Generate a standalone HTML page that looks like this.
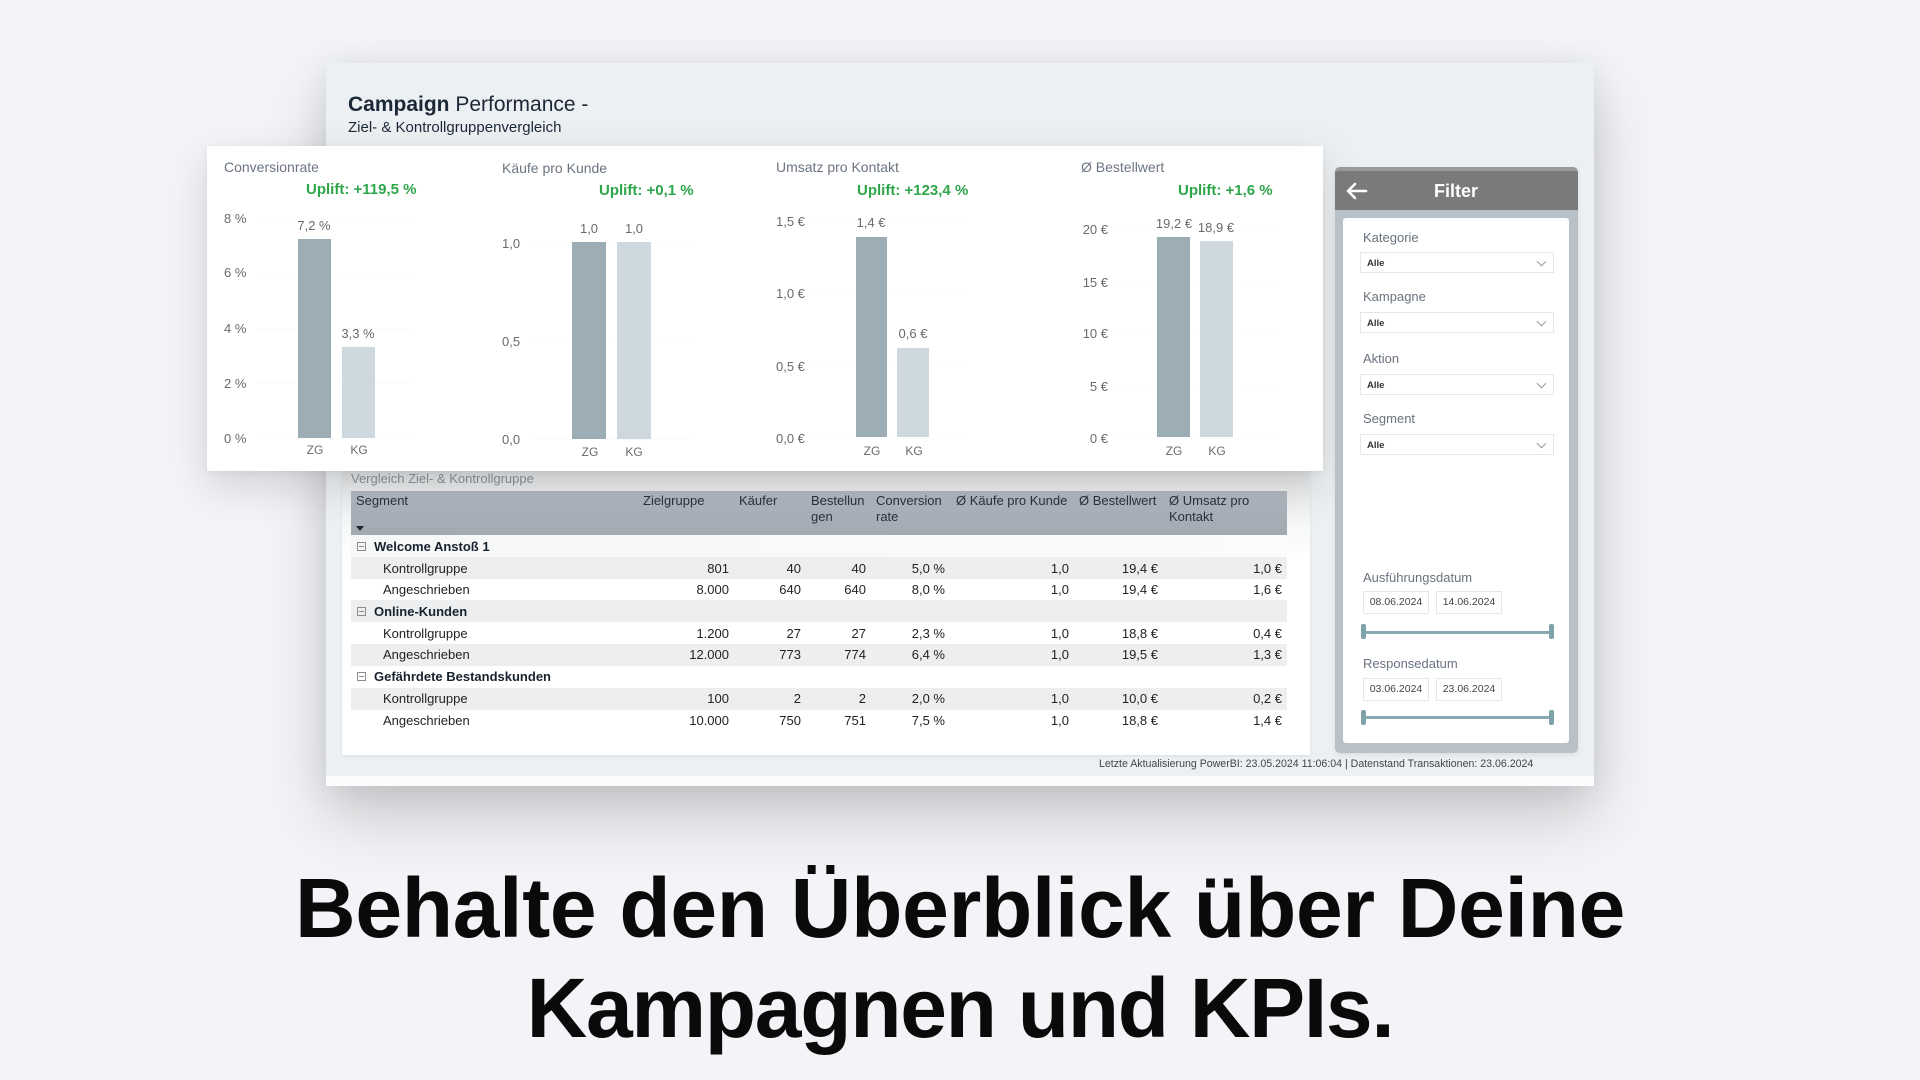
<!DOCTYPE html>
<html><head><meta charset="utf-8">
<style>
*{margin:0;padding:0;box-sizing:border-box}
html,body{width:1920px;height:1080px;overflow:hidden;background:#f3f4f7}
body{font-family:"Liberation Sans",Arial,sans-serif;position:relative}
.a{position:absolute}
.t{position:absolute;line-height:1;white-space:nowrap}
.cx{transform:translateX(-50%)}
.ct{font-size:14px;color:#6b7580}
.up{font-size:15px;font-weight:bold;color:#2ea64a}
.tk{font-size:13px;color:#6a6a6a}
.vl{font-size:13px;color:#6a6a6a}
.cat{font-size:12px;color:#6a6a6a}
.zg{position:absolute;background:#9cadb5}
.kg{position:absolute;background:#cdd9de}
.gl{position:absolute;height:0;border-top:1px dotted #f5f5f5}
.th{position:absolute;font-size:13px;line-height:16px;color:#29313b;white-space:nowrap}
.rw{position:absolute;left:351px;width:936px;height:22px}
.g{background:#eceeef}
.rl{font-size:13px;color:#222}
.rb{font-size:13px;color:#17222f;font-weight:bold}
.ic{position:absolute;width:9px;height:9px;border:1px solid #8d8d8d}
.ic:after{content:"";position:absolute;left:1px;right:1px;top:3px;height:1px;background:#8d8d8d}
.fl{font-size:13px;color:#69737e}
.dd{position:absolute;left:1360px;width:194px;height:21px;border:1px solid #e4e6e8;background:#fff}
.dd span{position:absolute;left:6px;top:6px;font-size:9.5px;font-weight:bold;color:#333;line-height:1}
.dd i{position:absolute;right:8px;top:5px;width:7px;height:7px;border-right:1px solid #999;border-bottom:1px solid #999;transform:rotate(45deg)}
.db{position:absolute;width:66px;height:23px;border:1px solid #e6e6e6;background:#fff;font-size:10.5px;color:#444;line-height:21px;text-align:center}
.sl{position:absolute;left:1363px;width:188px;height:3px;background:#87aab2}
.hd{position:absolute;width:5px;height:15px;background:#7fa3ab;border-radius:2px}
</style></head><body>

<!-- Dashboard -->
<div class="a" style="left:326px;top:63px;width:1268px;height:723px;background:#edf0f2;box-shadow:0 30px 60px rgba(0,0,0,0.18),0 5px 30px rgba(0,0,0,0.08)"></div>
<div class="a" style="left:326px;top:776px;width:1268px;height:10px;background:#fbfcfc"></div>

<div class="t" style="left:348px;top:94px;font-size:21px;color:#1c2838"><b>Campaign</b> Performance -</div>
<div class="t" style="left:348px;top:120px;font-size:15px;color:#1c2838">Ziel- &amp; Kontrollgruppenvergleich</div>

<!-- Table panel -->
<div class="a" style="left:342px;top:471px;width:968px;height:284px;background:linear-gradient(to bottom,#e2e4e6 0px,#eaeced 18px,#f8f9f9 60px,#fff 90px);box-shadow:0 1px 3px rgba(0,0,0,0.08)"></div>
<div class="t" style="left:351px;top:471.5px;font-size:13px;color:#8b9095">Vergleich Ziel- &amp; Kontrollgruppe</div>

<div class="a" style="left:351px;top:491px;width:936px;height:44px;background:linear-gradient(to bottom,#b2b9c1,#a1a9b3)"></div>
<div class="th" style="left:356px;top:493px">Segment</div>
<div class="a" style="left:356px;top:526px;width:0;height:0;border-left:4px solid transparent;border-right:4px solid transparent;border-top:5px solid #1e2630"></div>
<div class="th" style="left:643px;top:493px">Zielgruppe</div>
<div class="th" style="left:739px;top:493px">Käufer</div>
<div class="th" style="left:811px;top:493px">Bestellun<br>gen</div>
<div class="th" style="left:876px;top:493px">Conversion<br>rate</div>
<div class="th" style="left:956px;top:493px">Ø Käufe pro Kunde</div>
<div class="th" style="left:1079px;top:493px">Ø Bestellwert</div>
<div class="th" style="left:1169px;top:493px">Ø Umsatz pro<br>Kontakt</div>

<!-- rows -->
<div class="rw" style="top:535px;background:linear-gradient(to right,#f6f7f7,#fbfbfb)"></div>
<div class="rw g" style="top:557px"></div>
<div class="rw g" style="top:600px"></div>
<div class="rw g" style="top:644px"></div>
<div class="rw g" style="top:688px"></div>

<div class="ic" style="left:357px;top:541.5px"></div>
<div class="t rb" style="left:374px;top:539.5px">Welcome Anstoß 1</div>
<div class="ic" style="left:357px;top:606.5px"></div>
<div class="t rb" style="left:374px;top:604.5px">Online-Kunden</div>
<div class="ic" style="left:357px;top:671.5px"></div>
<div class="t rb" style="left:374px;top:669.5px">Gefährdete Bestandskunden</div>

<div class="t rl" style="left:383px;top:561.5px">Kontrollgruppe</div>
<div class="t rl" style="left:383px;top:583px">Angeschrieben</div>
<div class="t rl" style="left:383px;top:626.5px">Kontrollgruppe</div>
<div class="t rl" style="left:383px;top:648px">Angeschrieben</div>
<div class="t rl" style="left:383px;top:692px">Kontrollgruppe</div>
<div class="t rl" style="left:383px;top:713.5px">Angeschrieben</div>

<!-- row 1 values -->
<div class="t rl" style="right:1191px;top:561.5px">801</div>
<div class="t rl" style="right:1119px;top:561.5px">40</div>
<div class="t rl" style="right:1054px;top:561.5px">40</div>
<div class="t rl" style="right:975px;top:561.5px">5,0 %</div>
<div class="t rl" style="right:851px;top:561.5px">1,0</div>
<div class="t rl" style="right:762px;top:561.5px">19,4 €</div>
<div class="t rl" style="right:638px;top:561.5px">1,0 €</div>
<!-- row 2 -->
<div class="t rl" style="right:1191px;top:583px">8.000</div>
<div class="t rl" style="right:1119px;top:583px">640</div>
<div class="t rl" style="right:1054px;top:583px">640</div>
<div class="t rl" style="right:975px;top:583px">8,0 %</div>
<div class="t rl" style="right:851px;top:583px">1,0</div>
<div class="t rl" style="right:762px;top:583px">19,4 €</div>
<div class="t rl" style="right:638px;top:583px">1,6 €</div>
<!-- row 4 -->
<div class="t rl" style="right:1191px;top:626.5px">1.200</div>
<div class="t rl" style="right:1119px;top:626.5px">27</div>
<div class="t rl" style="right:1054px;top:626.5px">27</div>
<div class="t rl" style="right:975px;top:626.5px">2,3 %</div>
<div class="t rl" style="right:851px;top:626.5px">1,0</div>
<div class="t rl" style="right:762px;top:626.5px">18,8 €</div>
<div class="t rl" style="right:638px;top:626.5px">0,4 €</div>
<!-- row 5 -->
<div class="t rl" style="right:1191px;top:648px">12.000</div>
<div class="t rl" style="right:1119px;top:648px">773</div>
<div class="t rl" style="right:1054px;top:648px">774</div>
<div class="t rl" style="right:975px;top:648px">6,4 %</div>
<div class="t rl" style="right:851px;top:648px">1,0</div>
<div class="t rl" style="right:762px;top:648px">19,5 €</div>
<div class="t rl" style="right:638px;top:648px">1,3 €</div>
<!-- row 7 -->
<div class="t rl" style="right:1191px;top:692px">100</div>
<div class="t rl" style="right:1119px;top:692px">2</div>
<div class="t rl" style="right:1054px;top:692px">2</div>
<div class="t rl" style="right:975px;top:692px">2,0 %</div>
<div class="t rl" style="right:851px;top:692px">1,0</div>
<div class="t rl" style="right:762px;top:692px">10,0 €</div>
<div class="t rl" style="right:638px;top:692px">0,2 €</div>
<!-- row 8 -->
<div class="t rl" style="right:1191px;top:713.5px">10.000</div>
<div class="t rl" style="right:1119px;top:713.5px">750</div>
<div class="t rl" style="right:1054px;top:713.5px">751</div>
<div class="t rl" style="right:975px;top:713.5px">7,5 %</div>
<div class="t rl" style="right:851px;top:713.5px">1,0</div>
<div class="t rl" style="right:762px;top:713.5px">18,8 €</div>
<div class="t rl" style="right:638px;top:713.5px">1,4 €</div>

<div class="t" style="left:1099px;top:759px;font-size:10.6px;color:#444">Letzte Aktualisierung PowerBI: 23.05.2024 11:06:04 | Datenstand Transaktionen: 23.06.2024</div>

<!-- Chart card -->
<div class="a" style="left:207px;top:146px;width:1116px;height:325px;background:#fff;box-shadow:0 15px 40px rgba(0,0,0,0.14),0 2px 6px rgba(0,0,0,0.05)"></div>

<!-- Chart 1 -->
<div class="t ct" style="left:224px;top:160px">Conversionrate</div>
<div class="t up" style="left:306px;top:182px">Uplift: +119,5 %</div>
<div class="gl" style="left:257px;width:153px;top:218px"></div>
<div class="gl" style="left:257px;width:153px;top:273px"></div>
<div class="gl" style="left:257px;width:153px;top:328px"></div>
<div class="gl" style="left:257px;width:153px;top:383px"></div>
<div class="gl" style="left:257px;width:153px;top:438px"></div>
<div class="t tk" style="left:224px;top:211.5px">8 %</div>
<div class="t tk" style="left:224px;top:266px">6 %</div>
<div class="t tk" style="left:224px;top:321.5px">4 %</div>
<div class="t tk" style="left:224px;top:376.5px">2 %</div>
<div class="t tk" style="left:224px;top:431.5px">0 %</div>
<div class="zg" style="left:298px;top:239px;width:33px;height:199px"></div>
<div class="kg" style="left:342px;top:347px;width:33px;height:91px"></div>
<div class="t vl cx" style="left:314px;top:218.5px">7,2 %</div>
<div class="t vl cx" style="left:358px;top:326.5px">3,3 %</div>
<div class="t cat cx" style="left:315px;top:444px">ZG</div>
<div class="t cat cx" style="left:359px;top:444px">KG</div>

<!-- Chart 2 -->
<div class="t ct" style="left:502px;top:161px">Käufe pro Kunde</div>
<div class="t up" style="left:599px;top:183px">Uplift: +0,1 %</div>
<div class="gl" style="left:532px;width:158px;top:243px"></div>
<div class="gl" style="left:532px;width:158px;top:341px"></div>
<div class="gl" style="left:532px;width:158px;top:439px"></div>
<div class="t tk" style="left:502px;top:236.5px">1,0</div>
<div class="t tk" style="left:502px;top:334.5px">0,5</div>
<div class="t tk" style="left:502px;top:432.5px">0,0</div>
<div class="zg" style="left:572px;top:242px;width:34px;height:197px"></div>
<div class="kg" style="left:617px;top:242px;width:34px;height:197px"></div>
<div class="t vl cx" style="left:589px;top:221.5px">1,0</div>
<div class="t vl cx" style="left:634px;top:221.5px">1,0</div>
<div class="t cat cx" style="left:590px;top:446px">ZG</div>
<div class="t cat cx" style="left:634px;top:446px">KG</div>

<!-- Chart 3 -->
<div class="t ct" style="left:776px;top:160px">Umsatz pro Kontakt</div>
<div class="t up" style="left:857px;top:182.5px">Uplift: +123,4 %</div>
<div class="gl" style="left:815px;width:153px;top:221px"></div>
<div class="gl" style="left:815px;width:153px;top:293px"></div>
<div class="gl" style="left:815px;width:153px;top:366px"></div>
<div class="gl" style="left:815px;width:153px;top:438px"></div>
<div class="t tk" style="left:776px;top:214.5px">1,5 €</div>
<div class="t tk" style="left:776px;top:286.5px">1,0 €</div>
<div class="t tk" style="left:776px;top:359.5px">0,5 €</div>
<div class="t tk" style="left:776px;top:431.5px">0,0 €</div>
<div class="zg" style="left:856px;top:237px;width:31px;height:200px"></div>
<div class="kg" style="left:897px;top:348px;width:32px;height:89px"></div>
<div class="t vl cx" style="left:871px;top:215.5px">1,4 €</div>
<div class="t vl cx" style="left:913px;top:326.5px">0,6 €</div>
<div class="t cat cx" style="left:872px;top:445px">ZG</div>
<div class="t cat cx" style="left:914px;top:445px">KG</div>

<!-- Chart 4 -->
<div class="t ct" style="left:1081px;top:160px">Ø Bestellwert</div>
<div class="t up" style="left:1178px;top:182.5px">Uplift: +1,6 %</div>
<div class="gl" style="left:1115px;width:160px;top:229px"></div>
<div class="gl" style="left:1115px;width:160px;top:282px"></div>
<div class="gl" style="left:1115px;width:160px;top:333px"></div>
<div class="gl" style="left:1115px;width:160px;top:386px"></div>
<div class="gl" style="left:1115px;width:160px;top:438px"></div>
<div class="t tk" style="right:812px;top:222.5px">20 €</div>
<div class="t tk" style="right:812px;top:275.5px">15 €</div>
<div class="t tk" style="right:812px;top:326.5px">10 €</div>
<div class="t tk" style="right:812px;top:379.5px">5 €</div>
<div class="t tk" style="right:812px;top:431.5px">0 €</div>
<div class="zg" style="left:1157px;top:237px;width:33px;height:200px"></div>
<div class="kg" style="left:1200px;top:241px;width:33px;height:196px"></div>
<div class="t vl cx" style="left:1174px;top:216.5px">19,2 €</div>
<div class="t vl cx" style="left:1216px;top:220.5px">18,9 €</div>
<div class="t cat cx" style="left:1174px;top:445px">ZG</div>
<div class="t cat cx" style="left:1217px;top:445px">KG</div>

<!-- Filter panel -->
<div class="a" style="left:1335px;top:167px;width:243px;height:586px;background:#b8c0c8;border-radius:5px;box-shadow:0 2px 6px rgba(0,0,0,0.08)"></div>
<div class="a" style="left:1335px;top:167px;width:243px;height:43px;background:#7a7a7a;border-radius:5px 5px 0 0;border-top:4px solid #9a9a9a"></div>
<svg class="a" style="left:1345px;top:181px" width="24" height="20" viewBox="0 0 24 20">
<path d="M3 10 H21 M10 3 L3 10 L10 17" fill="none" stroke="#fff" stroke-width="2.6" stroke-linecap="round" stroke-linejoin="round"/>
</svg>
<div class="t" style="left:1434px;top:182px;font-size:18px;font-weight:bold;color:#fff">Filter</div>
<div class="a" style="left:1343px;top:218px;width:226px;height:525px;background:#fff;border-radius:3px"></div>

<div class="t fl" style="left:1363px;top:230.5px">Kategorie</div>
<div class="dd" style="top:252px"><span>Alle</span><i></i></div>
<div class="t fl" style="left:1363px;top:289.5px">Kampagne</div>
<div class="dd" style="top:312px"><span>Alle</span><i></i></div>
<div class="t fl" style="left:1363px;top:351.5px">Aktion</div>
<div class="dd" style="top:374px"><span>Alle</span><i></i></div>
<div class="t fl" style="left:1363px;top:411.5px">Segment</div>
<div class="dd" style="top:434px"><span>Alle</span><i></i></div>

<div class="t fl" style="left:1363px;top:570.5px">Ausführungsdatum</div>
<div class="db" style="left:1363px;top:591px">08.06.2024</div>
<div class="db" style="left:1436px;top:591px">14.06.2024</div>
<div class="sl" style="top:631px"></div>
<div class="hd" style="left:1361px;top:624px"></div>
<div class="hd" style="left:1549px;top:624px"></div>

<div class="t fl" style="left:1363px;top:656.5px">Responsedatum</div>
<div class="db" style="left:1363px;top:678px">03.06.2024</div>
<div class="db" style="left:1436px;top:678px">23.06.2024</div>
<div class="sl" style="top:716px"></div>
<div class="hd" style="left:1361px;top:710px"></div>
<div class="hd" style="left:1549px;top:710px"></div>

<!-- Headline -->
<div class="a" style="left:0;top:858px;width:1920px;text-align:center;font-size:84px;font-weight:bold;line-height:100px;color:#0a0a0a">
<div style="letter-spacing:-0.3px;white-space:nowrap">Behalte den Überblick über Deine</div>
<div style="letter-spacing:-1.3px;white-space:nowrap">Kampagnen und KPIs.</div>
</div>

</body></html>
